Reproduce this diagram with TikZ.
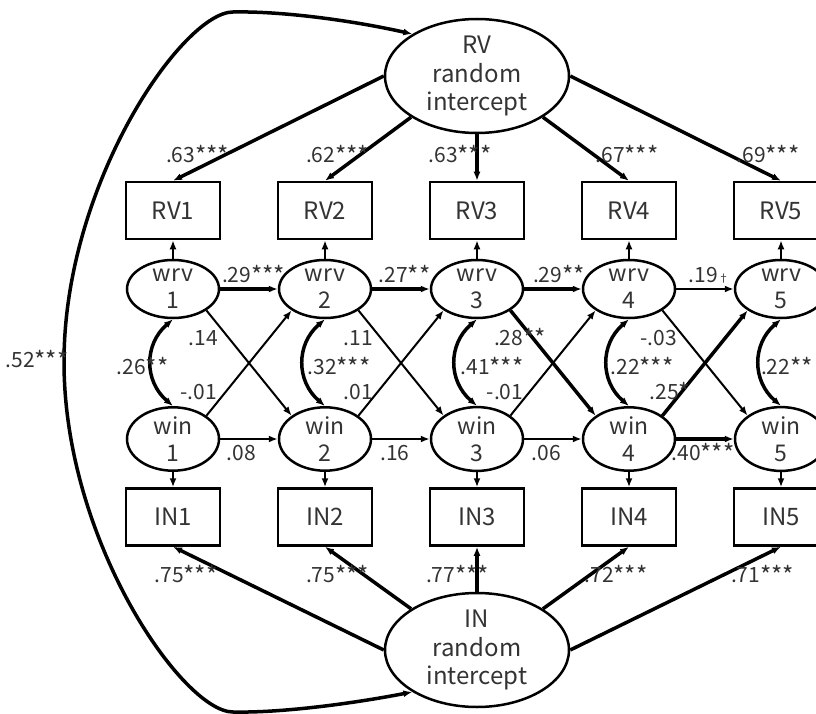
\documentclass[tikz,border=0pt]{standalone}
\usepackage{fontspec}
\setmainfont{Noto Sans CJK JP}
\usetikzlibrary{arrows.meta,shapes.geometric}
\newcommand\sig[1]{\raisebox{-2pt}{\scalebox{1.15}{#1}}}

\begin{document}
\begin{tikzpicture}[>={Latex[length=9pt,width=7pt]},x=1pt,y=1pt,
  obs/.style={draw,line width=2.5pt,minimum width=94pt,minimum height=57pt,inner sep=0pt,text=black!80,font=\fontsize{24}{29}\selectfont},
  lat/.style={draw,ellipse,line width=2.5pt,minimum width=92pt,minimum height=58pt,inner sep=0pt,align=center,text=black!80,font=\fontsize{23}{27}\selectfont},
  ri/.style={draw,ellipse,line width=2.5pt,minimum width=184pt,minimum height=114pt,inner sep=0pt,align=center,text=black!80,font=\fontsize{24}{28.5}\selectfont},
  lbl/.style={inner sep=0pt,text=black!80,font=\fontsize{21}{25}\selectfont},
  weak/.style={->,line width=2pt},
  strong/.style={->,line width=3.5pt},
  cov/.style={<->,line width=3.5pt}]

\useasboundingbox (0,0) rectangle (816,-714);

% random intercepts
\node[ri] (RVri) at (477,-76) {RV\\random\\intercept};
\node[ri] (INri) at (477,-650) {IN\\random\\intercept};

% indicators and within-person parts
\foreach \i [evaluate=\i as \x using 21+152*\i] in {1,...,5} {
  \node[obs] (RV\i) at (\x,-210.5) {RV\i};
  \node[lat] (wrv\i) at (\x,-289) {wrv\\\i};
  \node[lat] (win\i) at (\x,-439) {win\\\i};
  \node[obs] (IN\i) at (\x,-517) {IN\i};
  \draw[weak] (wrv\i) -- (RV\i);
  \draw[weak] (win\i) -- (IN\i);
  \draw[cov] (wrv\i.south) .. controls +(-29,-25) and +(-29,25) .. (win\i.north);
}

% loadings
\draw[strong] (RVri.west) -- (RV1.north);
\draw[strong] (RVri.south west) -- (RV2.north);
\draw[strong] (RVri.south) -- (RV3.north);
\draw[strong] (RVri.south east) -- (RV4.north);
\draw[strong] (RVri.east) -- (RV5.north);
\draw[strong] (INri.west) -- (IN1.south);
\draw[strong] (INri.north west) -- (IN2.south);
\draw[strong] (INri.north) -- (IN3.south);
\draw[strong] (INri.north east) -- (IN4.south);
\draw[strong] (INri.east) -- (IN5.south);

% autoregressive and cross-lagged paths
\foreach \i/\j/\w in {1/2/strong,2/3/strong,3/4/strong,4/5/weak}
  \draw[\w] (wrv\i) -- (wrv\j);
\foreach \i/\j/\w in {1/2/weak,2/3/weak,3/4/weak,4/5/strong}
  \draw[\w] (win\i) -- (win\j);
\foreach \i/\j/\w in {1/2/weak,2/3/weak,3/4/strong,4/5/weak}
  \draw[\w] (wrv\i.south east) -- (win\j.north west);
\foreach \i/\j/\w in {1/2/weak,2/3/weak,3/4/weak,4/5/strong}
  \draw[\w] (win\i.north east) -- (wrv\j.south west);

% covariance of the random intercepts
\draw[cov] (RVri.147) .. controls (350,-20) and (280,-11) .. (233,-12)
  .. controls (183,-12) and (64,-183) .. (64,-362)
  .. controls (64,-541) and (183,-712) .. (233,-712)
  .. controls (280,-713) and (350,-704) .. (INri.213);
\node[lbl] (cRI) at (37,-360) {.52\sig{***}};

% estimates
\foreach \n/\x/\t in {1/197.5/.63\sig{***},2/337.5/.62\sig{***},3/460/.63\sig{***},4/627/.67\sig{***},5/768/.69\sig{***}}
  \node[lbl] (lRV\n) at (\x,-155) {\t};
\foreach \n/\x/\t in {1/186/.75\sig{***},2/337.5/.75\sig{***},3/457.5/.77\sig{***},4/616/.72\sig{***},5/762.5/.71\sig{***}}
  \node[lbl] (lIN\n) at (\x,-575) {\t};
\foreach \n/\x/\t in {1/253.5/.29\sig{***},2/404.5/.27\sig{**},3/559/.29\sig{**},4/709/{.19{\fontsize{11}{11}\selectfont †}}}
  \node[lbl] (arRV\n) at (\x,-275) {\t};
\foreach \n/\x/\t in {1/241.5/.08,2/395/.16,3/546.5/.06,4/703/.40\sig{***}}
  \node[lbl] (arIN\n) at (\x,-453) {\t};
\foreach \n/\x/\t in {1/203.5/.14,2/358.5/.11,3/520/.28\sig{**},4/658.5/-.03}
  \node[lbl] (clRV\n) at (\x,-338) {\t};
\foreach \n/\x/\t in {1/198.5/-.01,2/358.5/.01,3/505/-.01,4/670/.25\sig{*}}
  \node[lbl] (clIN\n) at (\x,-392) {\t};
\foreach \n/\x/\t in {1/142.5/.26\sig{**},2/339/.32\sig{***},3/492/.41\sig{***},4/642/.22\sig{***},5/787/.22\sig{**}}
  \node[lbl] (cw\n) at (\x,-367) {\t};

\end{tikzpicture}
\end{document}
